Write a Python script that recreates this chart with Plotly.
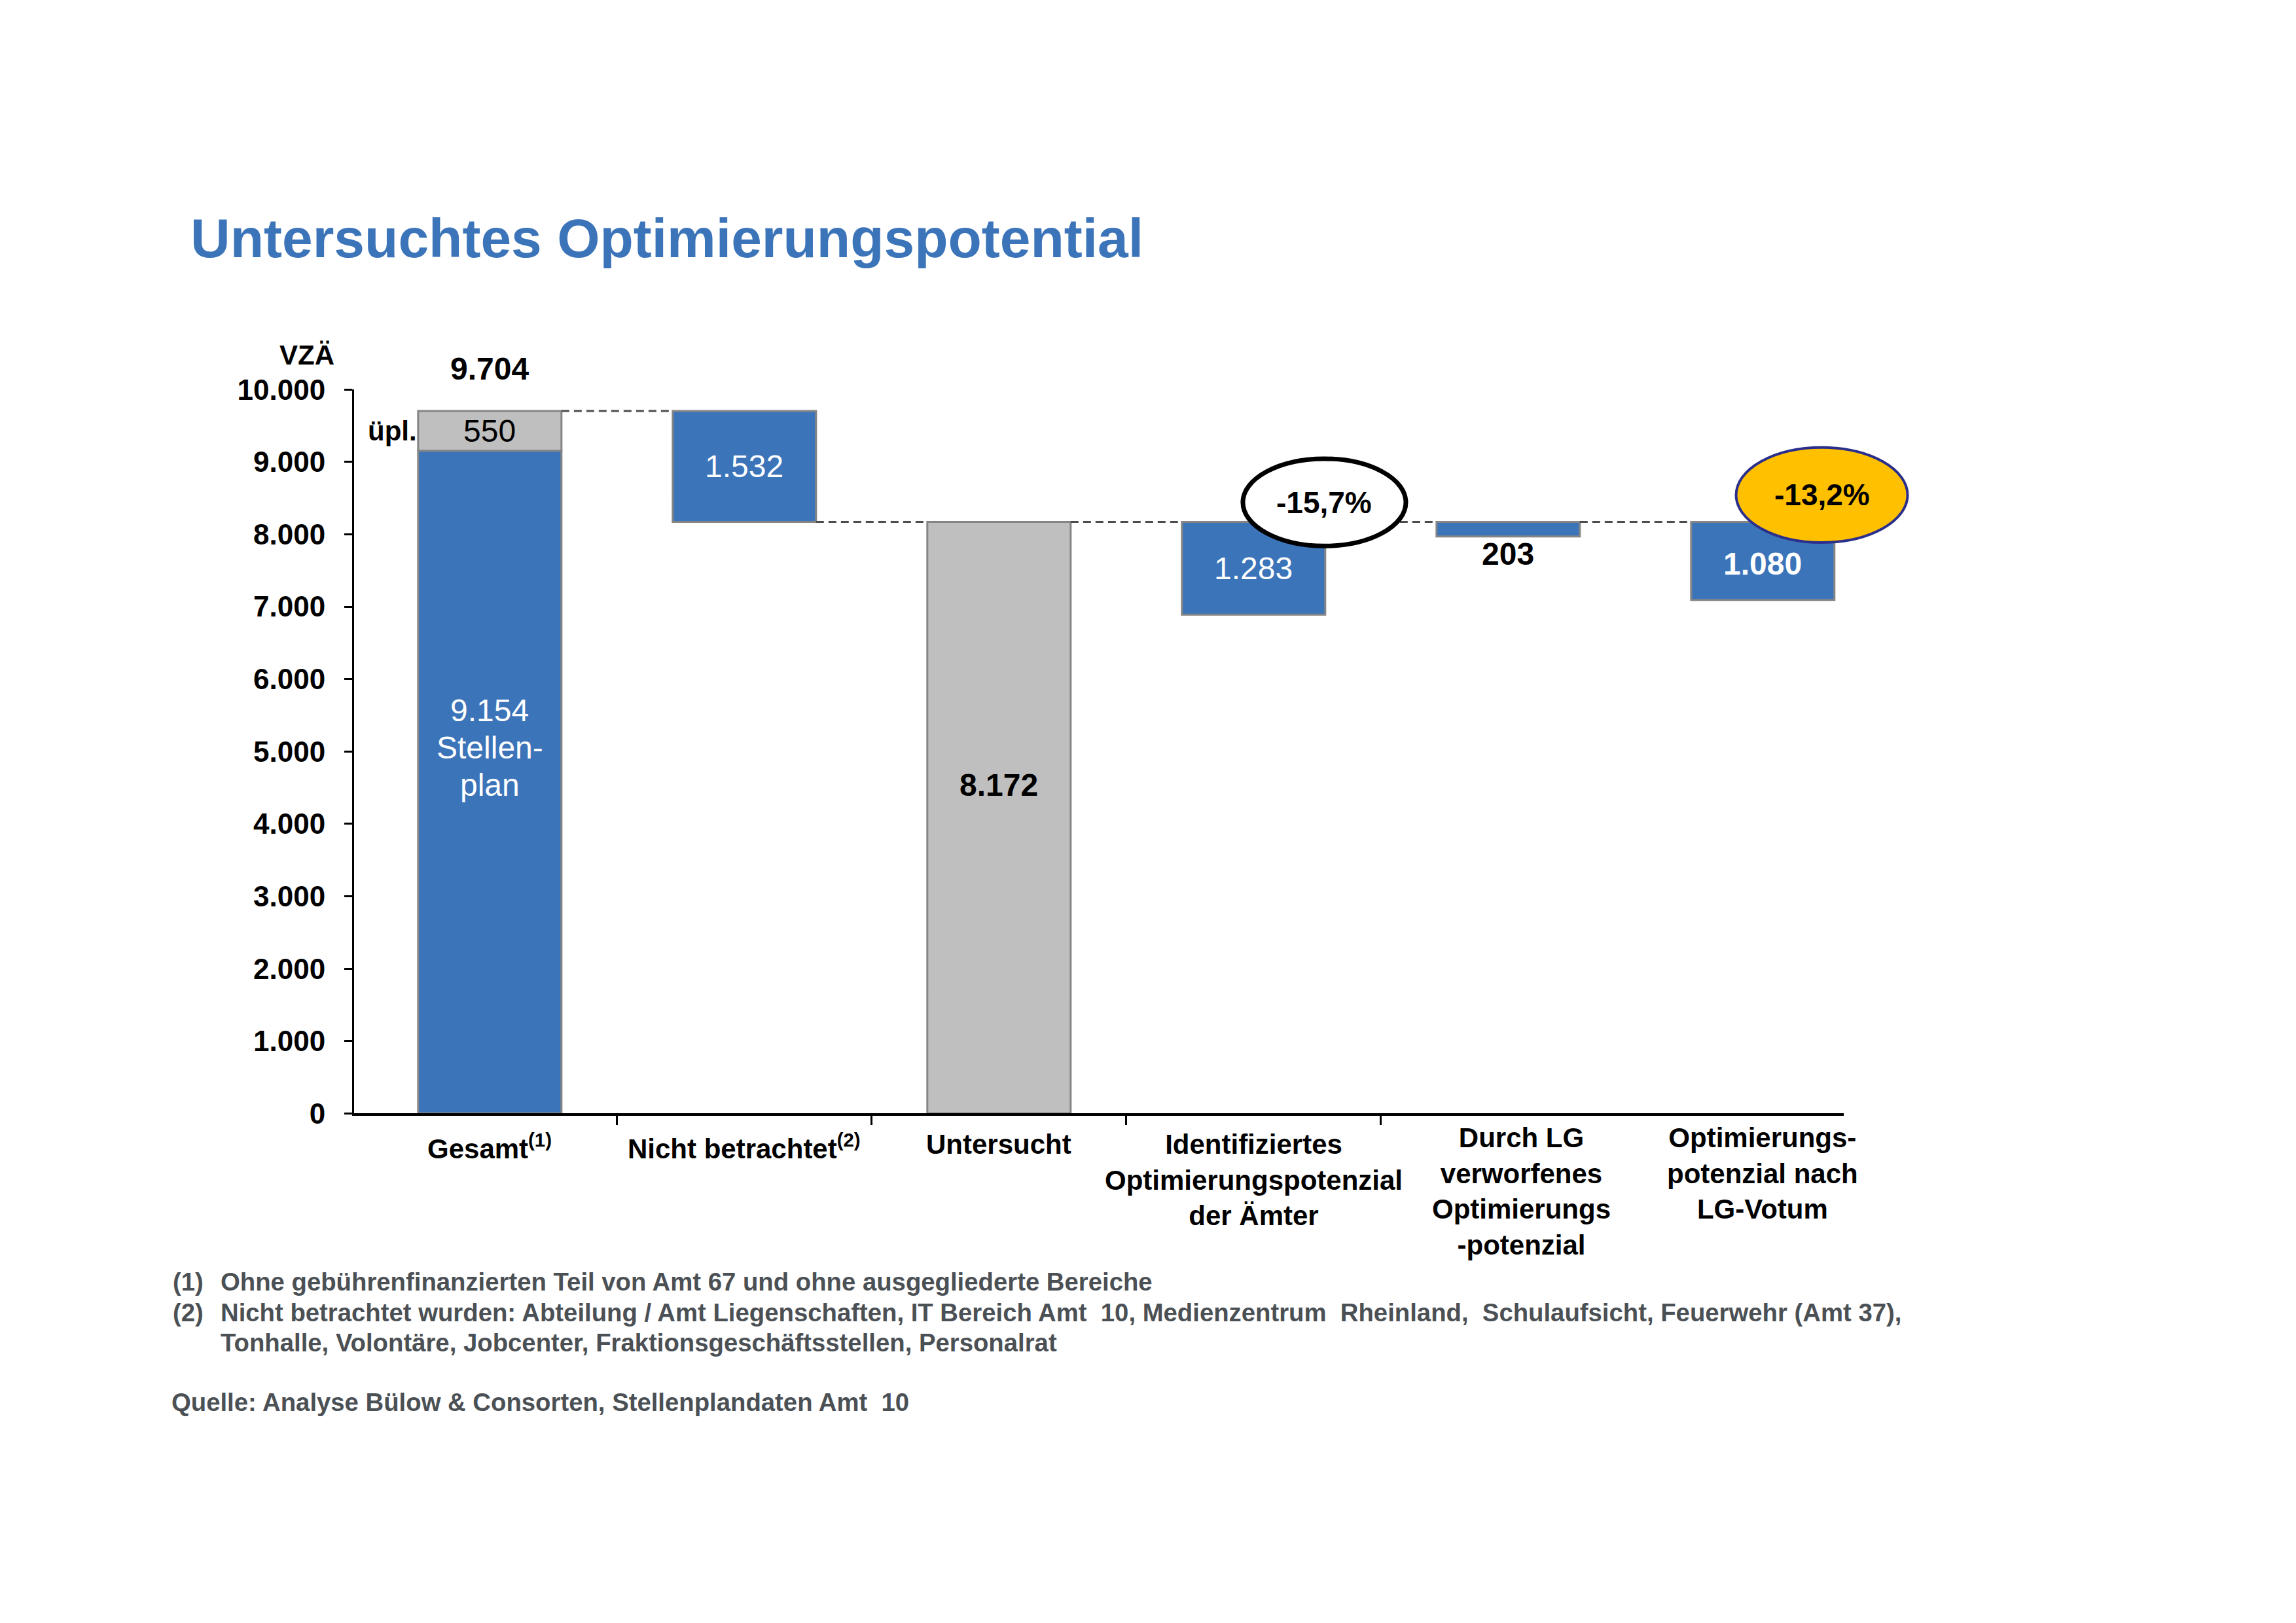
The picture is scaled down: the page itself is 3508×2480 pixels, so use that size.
import plotly.graph_objects as go

# values (VZÄ)
categories = ["Gesamt<sup>(1)</sup>", "Nicht betrachtet<sup>(2)</sup>", "Untersucht",
              "Identifiziertes<br>Optimierungspotenzial<br>der Ämter",
              "Durch LG<br>verworfenes<br>Optimierungs<br>-potenzial",
              "Optimierungs-<br>potenzial nach<br>LG-Votum"]
stellenplan = 9154
upl = 550
gesamt = 9704
nicht_betrachtet = 1532
untersucht = 8172
identifiziert = 1283
verworfen = 203
nach_votum = 1080
pct_labels = ["-15,7%", "-13,2%"]
y_ticks = [0, 1000, 2000, 3000, 4000, 5000, 6000, 7000, 8000, 9000, 10000]

footnotes = [
    ("(1)", "Ohne gebührenfinanzierten Teil von Amt 67 und ohne ausgegliederte Bereiche"),
    ("(2)", "Nicht betrachtet wurden: Abteilung / Amt Liegenschaften, IT Bereich Amt  10, "
            "Medienzentrum  Rheinland,  Schulaufsicht, Feuerwehr (Amt 37),"),
    ("", "Tonhalle, Volontäre, Jobcenter, Fraktionsgeschäftsstellen, Personalrat"),
]
quelle = "Quelle: Analyse Bülow & Consorten, Stellenplandaten Amt  10"

BLUE = "#3c74b9"
GREY = "#bfbfbf"
EDGE = "#858585"
FONT = "Liberation Sans, Arial, sans-serif"
W, H = 3508, 2480
bw = 0.563

x_rng = [-0.533, 5.318]
x_dom = [533 / W, 2809 / W]
y_dom = [1 - 1702 / H, 1 - 573.5 / H]


def px(v):
    return x_dom[0] + (v - x_rng[0]) / (x_rng[1] - x_rng[0]) * (x_dom[1] - x_dom[0])


def py(v):
    return y_dom[0] + v / y_ticks[-1] * (y_dom[1] - y_dom[0])


idx = list(range(len(categories)))

fig = go.Figure()

# blue bars
blue_x = [0, 1, 3, 4, 5]
blue_y = [stellenplan, nicht_betrachtet, identifiziert, verworfen, nach_votum]
blue_base = [0, gesamt - nicht_betrachtet, untersucht - identifiziert,
             untersucht - verworfen, untersucht - nach_votum]
fig.add_trace(go.Bar(x=blue_x, y=blue_y, base=blue_base, width=bw,
                     marker=dict(color=BLUE, line=dict(color=EDGE, width=3)),
                     hoverinfo="skip"))

# grey bars
fig.add_trace(go.Bar(x=[0, 2], y=[upl, untersucht], base=[stellenplan, 0], width=bw,
                     marker=dict(color=GREY, line=dict(color=EDGE, width=3)),
                     hoverinfo="skip"))

# dashed connectors
levels = [gesamt, untersucht, untersucht, untersucht, untersucht]
cx, cy = [], []
for i, lv in enumerate(levels):
    cx += [i + bw / 2, i + 1 - bw / 2, None]
    cy += [lv, lv, None]
fig.add_trace(go.Scatter(x=cx, y=cy, mode="lines",
                         line=dict(color="#4d4d4d", width=3, dash="12px,7px"),
                         hoverinfo="skip"))

ann = []


def label(x, y, text, size=48, color="black", bold=False, yshift=0, yanchor="middle",
          xanchor="center"):
    ann.append(dict(x=x, y=y, xref="x", yref="y", text=text, showarrow=False,
                    xanchor=xanchor, yanchor=yanchor, yshift=yshift,
                    font=dict(family=FONT, size=size, color=color,
                              weight="bold" if bold else "normal")))


fmt = lambda v: f"{v:,}".replace(",", ".")

label(0, gesamt, fmt(gesamt), bold=True, yshift=64)
label(0, stellenplan + upl / 2, fmt(upl))
label(-bw / 2, stellenplan + upl / 2, "üpl.", size=42, bold=True, xanchor="right")
for k, line in enumerate([fmt(stellenplan), "Stellen-", "plan"]):
    label(0, stellenplan / 2, line, color="white", yshift=110 - 57 * k)
label(1, gesamt - nicht_betrachtet / 2, fmt(nicht_betrachtet), color="white")
label(2, untersucht / 2, fmt(untersucht), bold=True, yshift=50)
label(3, untersucht - identifiziert / 2, fmt(identifiziert), color="white")
label(4, untersucht - verworfen, fmt(verworfen), bold=True, yanchor="top", yshift=2)
label(5, untersucht - nach_votum / 2, fmt(nach_votum), color="white", bold=True, yshift=-4)

# category labels
for i, c in zip(idx, categories):
    ann.append(dict(x=i, y=0, xref="x", yref="y", text=c, showarrow=False,
                    xanchor="center", yanchor="top", yshift=-22 if i < 4 else -12,
                    xshift=20 if i == 4 else 0,
                    font=dict(family=FONT, size=42, color="black", weight="bold")))

# percentage ellipses
ellipses = [
    dict(cx=3.278, cy=untersucht + 269, w=249, h=136, fill="white", line="black", lw=7),
    dict(cx=5.232, cy=untersucht + 371, w=262, h=148, fill="#ffc000", line="#2b2f8c", lw=4),
]
shapes = []
for e, t in zip(ellipses, pct_labels):
    x0, y0 = px(e["cx"]), py(e["cy"])
    shapes.append(dict(type="circle", xref="paper", yref="paper",
                       x0=x0 - e["w"] / 2 / W, x1=x0 + e["w"] / 2 / W,
                       y0=y0 - e["h"] / 2 / H, y1=y0 + e["h"] / 2 / H,
                       fillcolor=e["fill"], line=dict(color=e["line"], width=e["lw"]),
                       layer="above"))
    ann.append(dict(x=x0, y=y0, xref="paper", yref="paper", text=t, showarrow=False,
                    xanchor="center", yanchor="middle",
                    font=dict(family=FONT, size=46, color="black", weight="bold")))

# title, unit label, footnotes
ann.append(dict(x=281 / W, y=1 - 338 / H, xref="paper", yref="paper",
                text="Untersuchtes Optimierungspotential", showarrow=False,
                xanchor="left", yanchor="middle",
                font=dict(family=FONT, size=84, color=BLUE, weight="bold")))
ann.append(dict(x=461 / W, y=1 - 520 / H, xref="paper", yref="paper", text="VZÄ",
                showarrow=False, xanchor="center", yanchor="middle",
                font=dict(family=FONT, size=42, color="black", weight="bold")))

foot_y = [1964, 2012, 2059]
for (mark, txt), yy in zip(footnotes, foot_y):
    if mark:
        ann.append(dict(x=254 / W, y=1 - yy / H, xref="paper", yref="paper", text=mark,
                        showarrow=False, xanchor="left", yanchor="middle",
                        font=dict(family=FONT, size=38.3, color="#4b5055", weight="bold")))
    ann.append(dict(x=327 / W, y=1 - yy / H, xref="paper", yref="paper", text=txt,
                    showarrow=False, xanchor="left", yanchor="middle",
                    font=dict(family=FONT, size=38.3, color="#4b5055", weight="bold")))
ann.append(dict(x=252 / W, y=1 - 2152 / H, xref="paper", yref="paper", text=quelle,
                showarrow=False, xanchor="left", yanchor="middle",
                font=dict(family=FONT, size=38.3, color="#4b5055", weight="bold")))

fig.update_layout(
    width=W, height=H, margin=dict(l=0, r=0, t=0, b=0),
    paper_bgcolor="white", plot_bgcolor="white",
    showlegend=False, barmode="overlay", separators=",.",
    annotations=ann, shapes=shapes,
    xaxis=dict(domain=x_dom, range=x_rng, showgrid=False, zeroline=False,
               showline=True, linecolor="black", linewidth=4,
               tickvals=[i + 0.5 for i in idx[:4]], ticks="outside", ticklen=14,
               tickwidth=3, tickcolor="black", showticklabels=False),
    yaxis=dict(domain=y_dom, range=[y_ticks[0], y_ticks[-1]], showgrid=False,
               zeroline=False, showline=True, linecolor="black", linewidth=3,
               tickvals=y_ticks, tickformat=",d", ticks="outside", ticklen=12,
               tickwidth=3, tickcolor="black", ticklabelstandoff=20,
               tickfont=dict(family=FONT, size=44, color="black", weight="bold")),
)

fig.write_html("out.html")
